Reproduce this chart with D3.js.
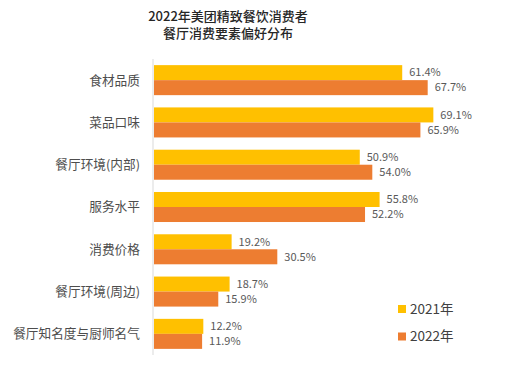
<!DOCTYPE html>
<html>
<head>
<meta charset="utf-8">
<script src="https://cdn.jsdelivr.net/npm/d3@7"></script>
<style>
  body { margin: 0; background: #fff; }
  text { font-family: "Noto Sans CJK SC", "Noto Sans", sans-serif; }
</style>
</head>
<body>
<svg width="508" height="371"></svg>
<script>
const categories = ['食材品质', '菜品口味', '餐厅环境(内部)', '服务水平', '消费价格', '餐厅环境(周边)', '餐厅知名度与厨师名气'];
const seriesNames = ['2021年', '2022年'];
const values2021 = [61.4, 69.1, 50.9, 55.8, 19.2, 18.7, 12.2];
const values2022 = [67.7, 65.9, 54.0, 52.2, 30.5, 15.9, 11.9];
const colors = ['#FFC000', '#ED7D31'];

const svg = d3.select('svg');

// title
svg.append('text')
  .attr('x', 228)
  .attr('y', 21)
  .attr('text-anchor', 'middle')
  .attr('font-size', '13px')
  .attr('font-weight', 500)
  .attr('fill', '#262626')
  .text('2022年美团精致餐饮消费者');
svg.append('text')
  .attr('x', 228)
  .attr('y', 38)
  .attr('text-anchor', 'middle')
  .attr('font-size', '13px')
  .attr('font-weight', 500)
  .attr('fill', '#262626')
  .text('餐厅消费要素偏好分布');

const x0 = 154;
const xScale = d3.scaleLinear().domain([0, 75]).range([x0, x0 + 303.2]);
const yScale = d3.scaleBand().domain(categories).range([59, 355]).paddingInner(0.29).paddingOuter(0.145);
const sub = d3.scaleBand().domain(seriesNames).range([0, yScale.bandwidth()]);

const data = categories.map((c, i) => ({
  cat: c,
  vals: [
    { s: seriesNames[0], v: values2021[i] },
    { s: seriesNames[1], v: values2022[i] },
  ],
}));

// category axis
svg.append('line')
  .attr('x1', x0 - 1).attr('x2', x0 - 1)
  .attr('y1', 59).attr('y2', 355)
  .attr('stroke', '#d9d9d9');

svg.selectAll('.cat')
  .data(categories)
  .enter()
  .append('text')
  .attr('class', 'cat')
  .attr('x', 140)
  .attr('y', (d) => yScale(d) + yScale.bandwidth() / 2)
  .attr('dy', '0.35em')
  .attr('text-anchor', 'end')
  .attr('font-size', '12.7px')
  .attr('fill', '#4d4d4d')
  .text((d) => d);

const g = svg.selectAll('.grp')
  .data(data)
  .enter()
  .append('g')
  .attr('class', 'grp')
  .attr('transform', (d) => `translate(0,${yScale(d.cat)})`);

g.selectAll('rect')
  .data((d) => d.vals)
  .enter()
  .append('rect')
  .attr('x', x0)
  .attr('y', (d) => sub(d.s))
  .attr('width', (d) => xScale(d.v) - x0)
  .attr('height', sub.bandwidth())
  .attr('fill', (d, i) => colors[i]);

g.selectAll('.val')
  .data((d) => d.vals)
  .enter()
  .append('text')
  .attr('class', 'val')
  .attr('x', (d) => xScale(d.v) + 7)
  .attr('y', (d) => sub(d.s) + sub.bandwidth() / 2)
  .attr('dy', '0.35em')
  .attr('font-size', '11px')
  .attr('fill', '#595959')
  .text((d) => d.v.toFixed(1) + '%');

// legend
const legend = svg.selectAll('.legend')
  .data(seriesNames)
  .enter()
  .append('g')
  .attr('class', 'legend')
  .attr('transform', (d, i) => `translate(398,${305 + i * 27.5})`);
legend.append('rect')
  .attr('width', 8)
  .attr('height', 8)
  .attr('fill', (d, i) => colors[i]);
legend.append('text')
  .attr('x', 12)
  .attr('y', 4)
  .attr('dy', '0.36em')
  .attr('font-size', '13.5px')
  .attr('fill', '#404040')
  .text((d) => d);
</script>
</body>
</html>
